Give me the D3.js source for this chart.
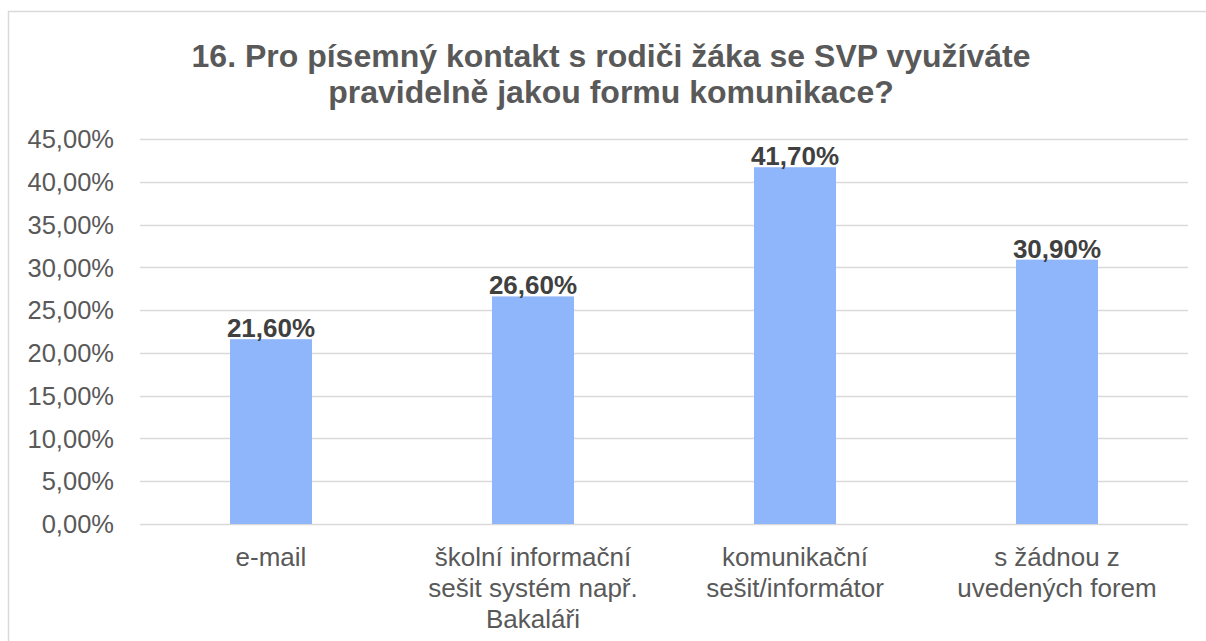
<!DOCTYPE html>
<html>
<head>
<meta charset="utf-8">
<script src="https://cdn.jsdelivr.net/npm/d3@7"></script>
<style>
  body { margin: 0; background: #fff; }
  text { font-family: "Liberation Sans", Arial, sans-serif; }
</style>
</head>
<body>
<svg width="1206" height="641"></svg>
<script>
let width = 1206, height = 641
let titleLines = ['16. Pro písemný kontakt s rodiči žáka se SVP využíváte', 'pravidelně jakou formu komunikace?']
let categories = [
    ['e-mail'],
    ['školní informační', 'sešit systém např.', 'Bakaláři'],
    ['komunikační', 'sešit/informátor'],
    ['s žádnou z', 'uvedených forem']
]
let values = [0.216, 0.266, 0.417, 0.309]
let yTicks = [0, 0.05, 0.10, 0.15, 0.20, 0.25, 0.30, 0.35, 0.40, 0.45]

let margin = {left: 140, right: 18, top: 139, bottom: 117}
let svg = d3.select('svg')

// chart border (top + left visible)
svg.append('rect')
    .attr('x', 8.5).attr('y', 11.5)
    .attr('width', 1230).attr('height', 700)
    .attr('fill', 'none')
    .attr('stroke', '#d9d9d9')
    .attr('stroke-width', 1.5)

let x = d3.scaleBand()
    .domain(d3.range(categories.length))
    .range([margin.left, width - margin.right])
    .paddingInner(0.687)
    .paddingOuter(0.3435)

let y = d3.scaleLinear()
    .domain([0, 0.45])
    .range([height - margin.bottom, margin.top])

let fmt = function (v) { return (v * 100).toFixed(2).replace('.', ',') + '%' }

// gridlines
svg.append('g')
    .selectAll('line')
    .data(yTicks)
    .join('line')
    .attr('x1', margin.left)
    .attr('x2', width - margin.right)
    .attr('y1', function (d) { return Math.round(y(d)) + 0.5 })
    .attr('y2', function (d) { return Math.round(y(d)) + 0.5 })
    .attr('stroke', '#d9d9d9')
    .attr('stroke-width', 1.5)

// y labels
svg.append('g')
    .selectAll('text')
    .data(yTicks)
    .join('text')
    .attr('x', 114)
    .attr('y', function (d) { return y(d) })
    .attr('dy', '0.36em')
    .attr('text-anchor', 'end')
    .attr('font-size', 25.5)
    .attr('fill', '#595959')
    .text(fmt)

// bars
svg.append('g')
    .selectAll('rect')
    .data(values)
    .join('rect')
    .attr('x', function (d, i) { return x(i) })
    .attr('width', x.bandwidth())
    .attr('y', function (d) { return y(d) })
    .attr('height', function (d) { return y(0) - y(d) })
    .attr('fill', '#8fb5fa')

// data labels
svg.append('g')
    .selectAll('text')
    .data(values)
    .join('text')
    .attr('x', function (d, i) { return x(i) + x.bandwidth() / 2 })
    .attr('y', function (d) { return y(d) - 2 })
    .attr('text-anchor', 'middle')
    .attr('font-size', 26)
    .attr('font-weight', 'bold')
    .attr('fill', '#404040')
    .text(fmt)

// category labels
let cat = svg.append('g')
    .selectAll('text')
    .data(categories)
    .join('text')
    .attr('text-anchor', 'middle')
    .attr('font-size', 26)
    .attr('fill', '#595959')
cat.selectAll('tspan')
    .data(function (d, i) { return d.map(function (t) { return {t: t, i: i} }) })
    .join('tspan')
    .attr('x', function (d) { return x(d.i) + x.bandwidth() / 2 })
    .attr('y', function (d, j) { return 566 + j * 31 })
    .text(function (d) { return d.t })

// title
svg.append('text')
    .attr('text-anchor', 'middle')
    .attr('font-size', 32)
    .attr('font-weight', 'bold')
    .attr('fill', '#595959')
    .selectAll('tspan')
    .data(titleLines)
    .join('tspan')
    .attr('x', 611)
    .attr('y', function (d, i) { return 67 + i * 36 })
    .text(function (d) { return d })
</script>
</body>
</html>
